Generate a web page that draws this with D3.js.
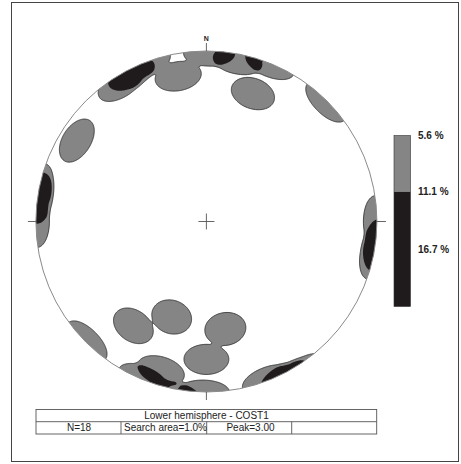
<!DOCTYPE html>
<html><head><meta charset="utf-8">
<script src="https://cdn.jsdelivr.net/npm/d3@7"></script>
<style>body{margin:0;background:#fff}svg{display:block}</style>
</head><body>
<script>
// ---- data: poles to planes (lower hemisphere), trend / plunge in degrees ----
const poleTrend  = [302, 349, 20, 215, 200, 170, 180, 45, 278, 281, 270, 328, 333, 339, 1, 11, 22, 197];
const polePlunge = [11, 14, 21, 26, 40, 36, 20, 0, 1, 0, 0, 5, 3, 0, 1, 4, 0, 9];
const contourLevels = [5.6, 11.1, 16.7];           // % of points per 1% search area
const legendLabels = ["5.6 %", "11.1 %", "16.7 %"];
const searchArea = 0.01;
const titleText = "Lower hemisphere - COST1";
const infoTexts = ["N=18", "Search area=1.0%", "Peak=3.00"];

const W = 461, H = 464;
const cx = 206.4, cy = 221.5, R = 170.5;
const svg = d3.select("body").append("svg").attr("width", W).attr("height", H);

svg.append("rect").attr("x", 11.5).attr("y", 2.5).attr("width", 447).attr("height", 459)
  .attr("fill", "none").attr("stroke", "#444").attr("stroke-width", 1);

// unit-disk scales
const xs = d3.scaleLinear().domain([-1, 1]).range([cx - R, cx + R]);
const ys = d3.scaleLinear().domain([-1, 1]).range([cy + R, cy - R]);

// density grid (equal-area, axial counting cone)
const N = poleTrend.length;
const rad = Math.PI / 180;
const alpha = Math.acos(1 - searchArea) * 1.08;
const soft = 1.8 * rad;
const poles = poleTrend.map((t, i) => {
  const p = polePlunge[i] * rad, tr = t * rad;
  return [Math.cos(p) * Math.sin(tr), Math.cos(p) * Math.cos(tr), Math.sin(p)];
});
const n = 350, ext = 1.03;
const gx = d3.scaleLinear().domain([0, n]).range([-ext, ext]);
const gy = d3.scaleLinear().domain([0, n]).range([ext, -ext]);
const values = new Float64Array(n * n);
for (let j = 0; j < n; j++) {
  for (let i = 0; i < n; i++) {
    const ux = gx(i + 0.5), uy = gy(j + 0.5);
    const rho = Math.min(Math.hypot(ux, uy), 1.4);
    const th = 2 * Math.asin(rho / Math.SQRT2);
    const az = Math.atan2(ux, uy);
    const v = [Math.sin(th) * Math.sin(az), Math.sin(th) * Math.cos(az), Math.cos(th)];
    let s = 0;
    for (const q of poles) {
      const d = Math.abs(v[0] * q[0] + v[1] * q[1] + v[2] * q[2]);
      const ang = Math.acos(Math.min(1, d));
      let f = (alpha + soft - ang) / (2 * soft);
      f = Math.max(0, Math.min(1, f));
      s += f * f * (3 - 2 * f);
    }
    values[j * n + i] = s * 100 / N;
  }
}
const contours = d3.contours().size([n, n]).thresholds([contourLevels[0] / 2, contourLevels[0] * 1.5])(values);
const proj = d3.geoTransform({ point: function (x, y) { this.stream.point(xs(gx(x)), ys(gy(y))); } });
const path = d3.geoPath(proj);

svg.append("clipPath").attr("id", "prim").append("circle").attr("cx", cx).attr("cy", cy).attr("r", R);
const g = svg.append("g").attr("clip-path", "url(#prim)");
g.append("path").attr("d", path(contours[0])).attr("fill", "#858585").attr("stroke", "#2a2a2a").attr("stroke-width", 0.8);
g.append("path").attr("d", path(contours[1])).attr("fill", "#1f1b1c").attr("stroke", "none");

svg.append("circle").attr("cx", cx).attr("cy", cy).attr("r", R)
  .attr("fill", "none").attr("stroke", "#8a8a8a").attr("stroke-width", 1);

// ticks & centre cross
const tk = "#555";
const line = (x1, y1, x2, y2) => svg.append("line").attr("x1", x1).attr("y1", y1).attr("x2", x2).attr("y2", y2).attr("stroke", tk).attr("stroke-width", 0.9);
line(xs(0), ys(1) - 8, xs(0), ys(1));
line(xs(0), ys(-1), xs(0), ys(-1) + 8);
line(xs(-1) - 8, ys(0), xs(-1), ys(0));
line(xs(1), ys(0), xs(1) + 9, ys(0));
line(xs(0) - 8, ys(0), xs(0) + 8, ys(0));
line(xs(0), ys(0) - 8, xs(0), ys(0) + 8);
svg.append("text").attr("x", xs(0)).attr("y", 41).attr("text-anchor", "middle")
  .attr("font-family", "Liberation Sans, Arial, sans-serif").attr("font-weight", "bold").attr("font-size", 7).attr("fill", "#222").text("N");

// legend
const ly = d3.scaleLinear().domain([contourLevels[0], contourLevels[2]]).range([135.5, 249]);
svg.append("rect").attr("x", 394).attr("y", ly(contourLevels[0])).attr("width", 16.5).attr("height", ly(contourLevels[1]) - ly(contourLevels[0]))
  .attr("fill", "#858585");
svg.append("rect").attr("x", 394).attr("y", ly(contourLevels[1])).attr("width", 16.5).attr("height", 306.5 - ly(contourLevels[1]))
  .attr("fill", "#1f1b1c");
svg.append("rect").attr("x", 394).attr("y", 135.5).attr("width", 16.5).attr("height", 171)
  .attr("fill", "none").attr("stroke", "#333").attr("stroke-width", 0.6);
legendLabels.forEach((t, i) => {
  svg.append("text").attr("x", 418).attr("y", ly(contourLevels[i]) + 3.5)
    .attr("font-family", "Liberation Sans, Arial, sans-serif").attr("font-weight", "bold").attr("font-size", 10)
    .attr("fill", "#222").text(t);
});

// info table
const tb = svg.append("g").attr("stroke", "#555").attr("stroke-width", 0.9);
tb.append("rect").attr("x", 36).attr("y", 409.5).attr("width", 340.7).attr("height", 24.5).attr("fill", "none");
tb.append("line").attr("x1", 36).attr("x2", 376.7).attr("y1", 421.7).attr("y2", 421.7);
[121, 206.7, 291.7].forEach(x => tb.append("line").attr("x1", x).attr("x2", x).attr("y1", 421.7).attr("y2", 434));
const tf = "Liberation Sans, Arial, sans-serif";
svg.append("text").attr("x", 206.5).attr("y", 418.8).attr("text-anchor", "middle").attr("font-family", tf).attr("font-size", 10).attr("fill", "#222").text(titleText);
svg.append("text").attr("x", 79).attr("y", 431).attr("text-anchor", "middle").attr("font-family", tf).attr("font-size", 10).attr("fill", "#222").text(infoTexts[0]);
svg.append("text").attr("x", 124).attr("y", 431).attr("font-family", tf).attr("font-size", 10).attr("fill", "#222").attr("textLength", 83).text(infoTexts[1]);
svg.append("text").attr("x", 250.5).attr("y", 431).attr("text-anchor", "middle").attr("font-family", tf).attr("font-size", 10).attr("fill", "#222").text(infoTexts[2]);
</script>
</body></html>
